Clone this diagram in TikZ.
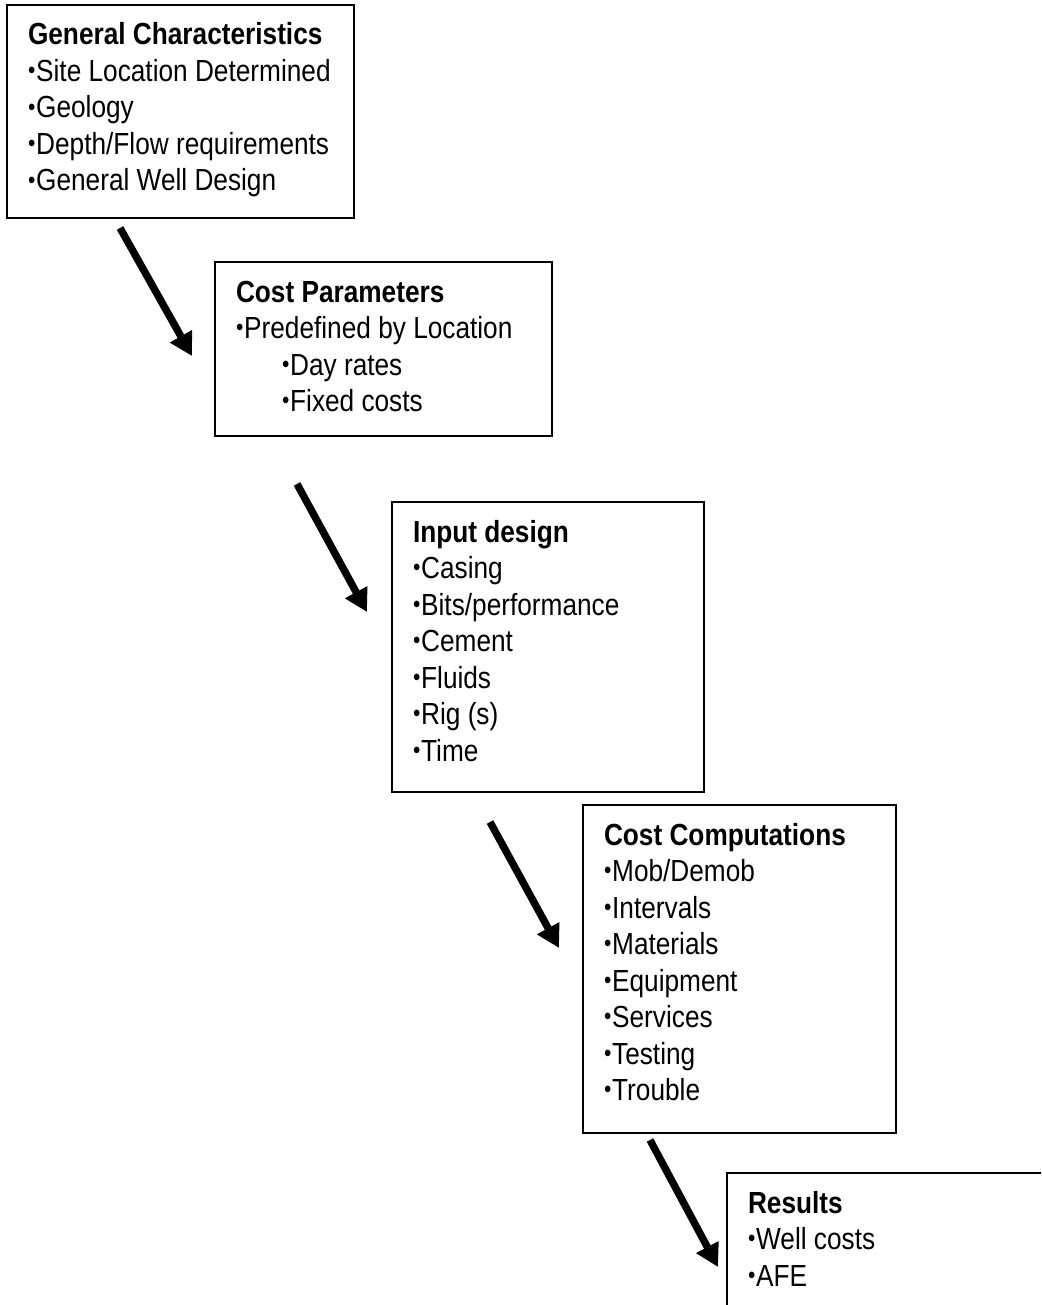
\documentclass[tikz,border=0pt]{standalone}
\usepackage{fontspec}
\setmainfont{Liberation Sans}[FakeStretch=0.86]
\usepackage{tikz}
\usetikzlibrary{positioning}
\usetikzlibrary{arrows.meta}
\newcommand{\itemdot}{\raisebox{1.4pt}{\scalebox{0.8}{•}}\kern0.4pt}

\begin{document}
\begin{tikzpicture}[
    stage/.style={draw, line width=1pt, outer sep=0pt, align=flush left, anchor=north west, inner xsep=10.5pt, inner ysep=0pt, text height=20pt, font=\fontsize{15.25pt}{18.25pt}\selectfont},
    flow/.style={line width=3.7pt, -{Triangle[length=11.3pt, width=12pt]}}
]
    \useasboundingbox (0,0) rectangle (520.5pt,-652.5pt);
    \clip (0,0) rectangle (520.5pt,-652.5pt);

    \node [stage, text width=152.5pt, text depth=86.5pt] (general) at (3.5pt,-2.5pt)
        {\textbf{General Characteristics}\\\itemdot Site Location Determined\\\itemdot Geology\\\itemdot Depth/Flow requirements\\\itemdot General Well Design};
    \node [stage, text width=147.5pt, text depth=67pt, below right=22pt and 104pt of general.south west] (params)
        {\textbf{Cost Parameters}\\\itemdot Predefined by Location\\\hspace*{23pt}\itemdot Day rates\\\hspace*{23pt}\itemdot Fixed costs};
    \node [stage, text width=135pt, text depth=125pt, below right=33pt and 88.5pt of params.south west] (design)
        {\textbf{Input design}\\\itemdot Casing\\\itemdot Bits/performance\\\itemdot Cement\\\itemdot Fluids\\\itemdot Rig (s)\\\itemdot Time};
    \node [stage, text width=135.5pt, text depth=144pt, below right=6.5pt and 95.5pt of design.south west] (compute)
        {\textbf{Cost Computations}\\\itemdot Mob/Demob\\\itemdot Intervals\\\itemdot Materials\\\itemdot Equipment\\\itemdot Services\\\itemdot Testing\\\itemdot Trouble};
    \node [stage, text width=179pt, text depth=130pt, below right=20pt and 72pt of compute.south west] (results)
        {\textbf{Results}\\\itemdot Well costs\\\itemdot AFE};

    \coordinate [below right=5pt and 56.5pt of general.south west] (a1);
    \coordinate [below right=64pt and 36pt of a1] (b1);
    \coordinate [below right=24pt and 41pt of params.south west] (a2);
    \coordinate [below right=64pt and 35pt of a2] (b2);
    \coordinate [below right=15pt and 49pt of design.south west] (a3);
    \coordinate [below right=63pt and 34.5pt of a3] (b3);
    \coordinate [below right=3.5pt and 33.5pt of compute.south west] (a4);
    \coordinate [below right=63.5pt and 34pt of a4] (b4);

    \draw [flow] (a1) -- (b1);
    \draw [flow] (a2) -- (b2);
    \draw [flow] (a3) -- (b3);
    \draw [flow] (a4) -- (b4);
\end{tikzpicture}
\end{document}
